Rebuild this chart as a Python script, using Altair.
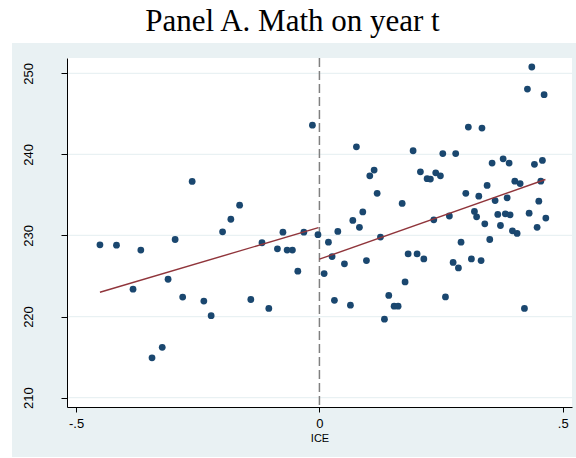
import altair as alt
import pandas as pd

# Binned means to the left of the cutoff
left_x = [-0.451, -0.417, -0.383, -0.367, -0.344, -0.323, -0.311, -0.2965, -0.281,
          -0.2615, -0.2375, -0.2225, -0.199, -0.182, -0.164, -0.141, -0.118, -0.104,
          -0.0863, -0.075, -0.0664, -0.0555, -0.0444, -0.032, -0.0144, -0.003]
left_y = [228.84, 228.8, 223.37, 228.2, 214.9, 216.2, 224.6, 229.5, 222.4,
          236.67, 221.9, 220.1, 230.45, 232.0, 233.74, 222.1, 229.1, 221.0,
          228.35, 230.4, 228.2, 228.2, 225.6, 230.4, 243.6, 230.1]

# Binned means to the right of the cutoff
right_x = [0.0097, 0.0185, 0.026, 0.0308, 0.0378, 0.0514, 0.0637, 0.0686, 0.076,
           0.0822, 0.0891, 0.0966, 0.1035, 0.1124, 0.1186, 0.1254, 0.1336, 0.1425,
           0.1535, 0.1617, 0.170, 0.176, 0.1823, 0.1925, 0.2007, 0.2075, 0.2145,
           0.2213, 0.228, 0.235, 0.239, 0.2486, 0.2535, 0.259, 0.267, 0.2747,
           0.280, 0.2856, 0.291, 0.3008, 0.306, 0.3123, 0.3185, 0.323, 0.3275,
           0.3322, 0.334, 0.3398, 0.3446, 0.350, 0.3548, 0.361, 0.3665, 0.372,
           0.3775, 0.382, 0.3857, 0.3898, 0.3918, 0.3966, 0.4015, 0.4062, 0.4124,
           0.4213, 0.4274, 0.4309, 0.4364, 0.4418, 0.4473, 0.4508, 0.4549, 0.4582,
           0.4617, 0.4652]
right_y = [225.3, 229.17, 227.4, 222.0, 230.5, 226.5, 221.4, 231.85, 240.94,
           231.0, 232.9, 226.9, 237.36, 238.06, 235.2, 229.8, 219.67, 222.6,
           221.27, 221.27, 233.95, 224.27, 227.73, 240.45, 227.73, 237.85, 227.1,
           237.0, 236.95, 231.93, 237.73, 237.36, 240.1, 222.42, 232.4, 226.67,
           240.1, 226.0, 229.17, 235.2, 243.37, 227.1, 232.96, 232.3, 234.85,
           226.9, 243.25, 231.43, 236.17, 229.5, 238.93, 234.3, 232.6, 231.23,
           239.46, 232.67, 234.64, 238.93, 232.54, 230.57, 236.7, 230.25, 236.4,
           221.0, 248.06, 232.75, 250.78, 238.77, 231.0, 234.23, 236.7, 239.26,
           247.36, 232.14]

# Linear fits on each side of the cutoff (end points)
fit_left_x = [-0.451, -0.002]
fit_left_y = [223.0, 230.96]
fit_right_x = [0.0, 0.4644]
fit_right_y = [227.07, 236.9]

cutoff = [0.0]
y_ticks = [210, 220, 230, 240, 250]
x_ticks = [-0.5, 0.0, 0.5]
x_tick_labels = ["-.5", "0", ".5"]

W, H = 505, 349
X_DOMAIN = [-0.5187, 0.519]
Y_DOMAIN = [208.84, 251.89]
PANEL = "#e9f1f3"
NAVY = "#1a476f"
MAROON = "#90353b"

points = pd.DataFrame({"ICE": left_x + right_x, "score": left_y + right_y})
fits = pd.DataFrame({
    "ICE": fit_left_x + fit_right_x,
    "score": fit_left_y + fit_right_y,
    "side": ["left"] * len(fit_left_x) + ["right"] * len(fit_right_x),
})
grid = pd.DataFrame({"score": y_ticks})
cut = pd.DataFrame({"ICE": cutoff})
one = pd.DataFrame({"k": [0]})

label_expr = " : ".join(
    f"abs(datum.value - ({v})) < 1e-9 ? '{t}'" for v, t in zip(x_ticks, x_tick_labels)
) + " : ''"

x_scale = alt.Scale(domain=X_DOMAIN, nice=False, zero=False)
y_scale = alt.Scale(domain=Y_DOMAIN, nice=False, zero=False)

x_axis = alt.Axis(
    values=x_ticks, labelExpr=label_expr, title="ICE", grid=False, zindex=1,
    domainColor="black", domainWidth=1, tickColor="black", tickSize=5, tickWidth=1,
    labelFont="Liberation Sans", labelFontSize=13, labelColor="black", labelPadding=5,
    titleFont="Liberation Sans", titleFontSize=11, titleFontWeight="normal",
    titleColor="black", titlePadding=2,
)
y_axis = alt.Axis(
    values=y_ticks, title=None, grid=False, zindex=1,
    domainColor="black", domainWidth=1, tickColor="black", tickSize=6, tickWidth=1,
    labelFont="Liberation Sans", labelFontSize=13, labelColor="black",
    labelAngle=270, labelAlign="center", labelBaseline="alphabetic", labelPadding=29,
)

x_enc = alt.X("ICE:Q", scale=x_scale, axis=x_axis)
y_enc = alt.Y("score:Q", scale=y_scale, axis=y_axis)

# White strips around the grey graph region (title band, left margin, bottom edge)
title_band = alt.Chart(one).mark_rect(fill="white", clip=False).encode(
    x=alt.value(-70), x2=alt.value(W + 10), y=alt.value(-60), y2=alt.value(-15)
)
left_band = alt.Chart(one).mark_rect(fill="white", clip=False).encode(
    x=alt.value(-70), x2=alt.value(-55), y=alt.value(-15), y2=alt.value(H + 55)
)
bottom_band = alt.Chart(one).mark_rect(fill="white", clip=False).encode(
    x=alt.value(-55), x2=alt.value(W + 10), y=alt.value(H + 50), y2=alt.value(H + 55)
)

gridlines = alt.Chart(grid).mark_rule(color=PANEL, strokeWidth=1.3).encode(y=y_enc)

cut_line = alt.Chart(cut).mark_rule(
    color="#808080", strokeWidth=1.5, strokeDash=[9, 4]
).encode(x=x_enc)

dots = alt.Chart(points).mark_circle(size=46, color=NAVY, opacity=1).encode(x=x_enc, y=y_enc)

fit_lines = alt.Chart(fits).mark_line(color=MAROON, strokeWidth=1.4).encode(
    x=x_enc, y=y_enc, detail="side:N"
)

chart = alt.layer(
    title_band, left_band, bottom_band, gridlines, cut_line, dots, fit_lines
).properties(
    width=W,
    height=H,
    title=alt.TitleParams(
        "Panel A. Math on year t", font="Liberation Serif", fontSize=31,
        fontWeight="normal", color="black", anchor="middle", frame="group",
        baseline="alphabetic", offset=-32, dx=-27, dy=32,
    ),
    autosize=alt.AutoSizeParams(type="none"),
    padding={"left": 67, "top": 58, "right": 4, "bottom": 51},
).configure(background=PANEL).configure_view(stroke=None, fill="white")

chart.save("out.html", embed_options={"renderer": "svg", "actions": False})
